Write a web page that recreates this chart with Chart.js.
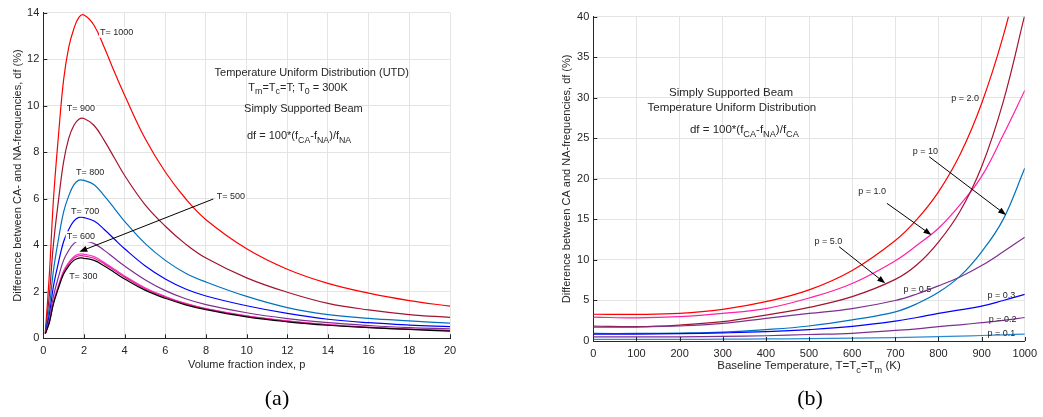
<!DOCTYPE html>
<html><head><meta charset="utf-8">
<script src="https://cdn.jsdelivr.net/npm/chart.js@4.4.0/dist/chart.umd.min.js"></script>
<style>
html,body{margin:0;padding:0;background:#fff;}
#wrap{position:relative;width:1043px;height:417px;overflow:hidden;background:#fff;}
#c1{position:absolute;left:0;top:0;}
#c2{position:absolute;left:520px;top:0;}
</style></head><body>
<div id="wrap"><canvas id="c1" width="520" height="417"></canvas><canvas id="c2" width="523" height="417"></canvas></div>
<script>
// ---------- Chart (a): df vs volume fraction index p ----------
const pIndex = [0.1,0.3,0.5,0.75,1,1.25,1.5,1.75,2,2.5,3,3.5,4,5,6,7,8,10,12,14,16,18,20];
const dfT1000 = [0.25,2.78,5.98,8.76,11.12,12.51,13.3,13.8,13.9,13.45,12.5,11.45,10.45,8.6,7.15,6.0,5.1,3.85,2.97,2.36,1.94,1.62,1.38];
const dfT900  = [0.22,1.89,4.06,5.95,7.6,8.6,9.15,9.42,9.45,9.15,8.5,7.75,7.0,5.75,4.82,4.05,3.45,2.6,1.98,1.5,1.22,1.02,0.9];
const dfT800  = [0.2,1.36,2.92,4.28,5.44,6.12,6.6,6.8,6.79,6.6,6.12,5.58,5.03,4.08,3.35,2.8,2.42,1.8,1.32,1.02,0.86,0.75,0.65];
const dfT700  = [0.2,1.04,2.24,3.28,4.16,4.68,5.04,5.2,5.19,5.04,4.68,4.26,3.85,3.12,2.55,2.12,1.82,1.4,1.07,0.82,0.67,0.57,0.5];
const dfT600  = [0.2,0.84,1.81,2.65,3.36,3.78,4.07,4.2,4.19,4.07,3.78,3.44,3.11,2.52,2.05,1.7,1.45,1.1,0.85,0.67,0.55,0.46,0.41];
const dfT500  = [0.2,0.72,1.56,2.28,2.9,3.26,3.51,3.62,3.61,3.51,3.26,2.97,2.68,2.17,1.8,1.5,1.28,0.97,0.75,0.59,0.48,0.4,0.35];
const dfT400  = [0.2,0.71,1.53,2.24,2.84,3.2,3.44,3.55,3.54,3.44,3.2,2.91,2.63,2.13,1.77,1.48,1.27,0.95,0.74,0.58,0.47,0.39,0.33];
const dfT300  = [0.2,0.69,1.48,2.17,2.76,3.11,3.35,3.45,3.44,3.35,3.11,2.83,2.55,2.07,1.72,1.44,1.23,0.92,0.71,0.56,0.46,0.38,0.31];
const xTicksA = [0,2,4,6,8,10,12,14,16,18,20];
const yTicksA = [0,2,4,6,8,10,12,14];

// ---------- Chart (b): df vs baseline temperature ----------
const tempK = [0,100,200,300,400,500,600,700,750,800,850,900,950,1000];
const dfP2_0 = [3.3,3.28,3.4,3.9,4.85,6.3,8.7,12.4,15.0,18.4,23.0,29.3,37.6,48];
const dfP1_0 = [2.95,2.85,3.0,3.4,4.0,5.3,7.1,9.9,11.8,13.9,16.8,20.3,25.4,30.9];
const dfP5_0 = [1.85,1.77,1.97,2.38,3.2,4.15,5.47,7.6,9.4,12.2,16.0,21.5,29.5,40.2];
const dfP0_5 = [1.7,1.72,1.85,2.18,2.8,3.4,4.0,5.0,5.8,6.8,7.9,9.3,11.0,12.8];
const dfP10  = [0.93,0.93,0.98,1.1,1.4,1.85,2.6,3.6,4.6,6.0,8.0,11.0,15.0,21.3];
const dfP0_3 = [0.86,0.86,0.9,1.0,1.15,1.4,1.8,2.45,2.9,3.4,3.85,4.3,5.0,5.75];
const dfP0_2 = [0.5,0.5,0.52,0.58,0.65,0.8,0.95,1.3,1.5,1.77,2.0,2.26,2.55,2.9];
const dfP0_1 = [0.2,0.2,0.2,0.22,0.25,0.3,0.35,0.42,0.48,0.55,0.6,0.68,0.76,0.86];
const xTicksB = [0,100,200,300,400,500,600,700,800,900,1000];
const yTicksB = [0,5,10,15,20,25,30,35,40];

const FAM = '"Liberation Sans", Arial, Helvetica, sans-serif';
const INK = '#262626';
Chart.defaults.font.family = FAM;
Chart.defaults.color = INK;

function pts(xs, ys){ return xs.map((x,i)=>({x, y: ys[i]})); }
function ds(label, xs, ys, color){
  return {label, data: pts(xs, ys), borderColor: color, backgroundColor: color,
    borderWidth: 1.2, pointRadius: 0, fill: false, tension: 0.4, cubicInterpolationMode: 'default'};
}

// rich text with _{sub}
function parseRich(s){
  const out=[]; const re=/_\{([^}]*)\}/g; let last=0, m;
  while((m=re.exec(s))){ if(m.index>last) out.push([s.slice(last,m.index),0]); out.push([m[1],1]); last=re.lastIndex; }
  if(last<s.length) out.push([s.slice(last),0]);
  return out;
}
function richText(ctx, s, x, y, size, align, bg){
  const segs = parseRich(s).map(([t,sub])=>{ const fs = sub? size*0.8 : size; ctx.font = fs+'px '+FAM; return {t,sub,fs,w:ctx.measureText(t).width}; });
  const w = segs.reduce((a,b)=>a+b.w,0);
  let cx = align==='left' ? x : x - w/2;
  if(bg){ ctx.fillStyle='#fff'; ctx.fillRect(cx-1, y-size*0.6, w+2, size*1.2); }
  ctx.fillStyle = INK; ctx.textBaseline='middle'; ctx.textAlign='left';
  segs.forEach(sg=>{ ctx.font = sg.fs+'px '+FAM; ctx.fillText(sg.t, cx, y + (sg.sub? size*0.4 : 0)); cx += sg.w; });
}
function arrow(ctx, x1,y1,x2,y2){
  const ang = Math.atan2(y2-y1, x2-x1), L=8, W=3;
  ctx.save(); ctx.strokeStyle='#000'; ctx.fillStyle='#000'; ctx.lineWidth=1;
  ctx.beginPath(); ctx.moveTo(x1,y1); ctx.lineTo(x2-L*0.8*Math.cos(ang), y2-L*0.8*Math.sin(ang)); ctx.stroke();
  ctx.beginPath(); ctx.moveTo(x2,y2);
  ctx.lineTo(x2-L*Math.cos(ang)+W*Math.sin(ang), y2-L*Math.sin(ang)-W*Math.cos(ang));
  ctx.lineTo(x2-L*Math.cos(ang)-W*Math.sin(ang), y2-L*Math.sin(ang)+W*Math.cos(ang));
  ctx.closePath(); ctx.fill(); ctx.restore();
}

const innerTicks = { id:'innerTicks', afterDraw(chart){
  const {ctx, chartArea:a, scales:{x,y}} = chart;
  ctx.save(); ctx.strokeStyle=INK; ctx.lineWidth=1; ctx.beginPath();
  x.ticks.forEach(t=>{ const px=Math.round(x.getPixelForValue(t.value))+0.5; ctx.moveTo(px,a.bottom); ctx.lineTo(px,a.bottom-4); });
  y.ticks.forEach(t=>{ const py=Math.round(y.getPixelForValue(t.value))+0.5; ctx.moveTo(a.left,py); ctx.lineTo(a.left+4,py); });
  ctx.stroke(); ctx.restore();
}};

function baseOptions(xMin,xMax,yMin,yMax,xTicks,yTicks,yw,xh,pad,yTitle,yTitlePad,xTitle,xTitlePad,tickSize){
  return {
    responsive:false, animation:false, devicePixelRatio:1,
    layout:{padding:pad},
    plugins:{legend:{display:false}, tooltip:{enabled:false}},
    scales:{
      x:{type:'linear', min:xMin, max:xMax,
        afterBuildTicks(s){ s.ticks = xTicks.map(v=>({value:v})); },
        afterFit(s){ s.height = xh; },
        ticks:{font:{size:tickSize}, padding:6, maxRotation:0, color:INK, callback:v=>String(v)},
        grid:{color:'#e4e4e4', lineWidth:1, drawTicks:false},
        border:{display:true, color:INK, width:1},
        title:{display: !!xTitle, text:xTitle||'', font:{size:11}, color:INK, padding:xTitlePad}
      },
      y:{type:'linear', min:yMin, max:yMax,
        afterBuildTicks(s){ s.ticks = yTicks.map(v=>({value:v})); },
        afterFit(s){ s.width = yw; },
        ticks:{font:{size:tickSize}, padding:4, color:INK, callback:v=>String(v)},
        grid:{color:'#e4e4e4', lineWidth:1, drawTicks:false},
        border:{display:true, color:INK, width:1},
        title:{display:true, text:yTitle, font:{size:11}, color:INK, padding:yTitlePad}
      }
    }
  };
}

// ---- Chart (a)
const annoA = { id:'annoA', afterDraw(chart){
  const {ctx, scales:{x,y}} = chart;
  const X=v=>x.getPixelForValue(v), Y=v=>y.getPixelForValue(v);
  ctx.save();
  const labs = [['T= 1000',2.79,13.16],['T= 900',1.15,9.86],['T= 800',1.61,7.14],['T= 700',1.36,5.47],['T= 600',1.15,4.37],['T= 300',1.27,2.65],['T= 500',8.53,6.09]];
  labs.forEach(l=>richText(ctx,l[0],X(l[1]),Y(l[2]),9,'left',true));
  arrow(ctx, X(8.36), Y(5.99), X(1.77), Y(3.72));
  richText(ctx,'Temperature Uniform Distribution (UTD)', X(13.2), Y(11.42), 11,'center');
  richText(ctx,'T_{m}=T_{c}=T; T_{0} = 300K', X(12.53), Y(10.78), 11,'center');
  richText(ctx,'Simply Supported Beam', X(12.79), Y(9.85), 11,'center');
  richText(ctx,'df = 100*(f_{CA}-f_{NA})/f_{NA}', X(12.58), Y(8.68), 11,'center');
  ctx.font = '22px "Liberation Serif", "Times New Roman", serif'; ctx.fillStyle='#000'; ctx.textAlign='center'; ctx.textBaseline='middle';
  ctx.fillText('(a)', 277, 399);
  ctx.restore();
}};
new Chart(document.getElementById('c1'), {
  type:'line',
  data:{datasets:[
    ds('T=300', pIndex, dfT300, '#000000'),
    ds('T=400', pIndex, dfT400, '#E0218A'),
    ds('T=500', pIndex, dfT500, '#FF33CC'),
    ds('T=600', pIndex, dfT600, '#7E2F8E'),
    ds('T=700', pIndex, dfT700, '#0000FF'),
    ds('T=800', pIndex, dfT800, '#0072BD'),
    ds('T=900', pIndex, dfT900, '#A2142F'),
    ds('T=1000', pIndex, dfT1000, '#FF0000')
  ]},
  options: baseOptions(0,20,0,14,xTicksA,yTicksA,43.3,78.7,{left:0,top:12.7,right:70,bottom:0},
    'Difference between CA- and NA-frequencies, df (%)',{top:11.4,bottom:0},'Volume fraction index, p',{top:0,bottom:45.4},11),
  plugins:[innerTicks, annoA]
});

// ---- Chart (b)
const annoB = { id:'annoB', afterDraw(chart){
  const {ctx, chartArea:a, scales:{x,y}} = chart;
  const X=v=>x.getPixelForValue(v), Y=v=>y.getPixelForValue(v);
  ctx.save();
  const labs = [['p = 2.0',829.6,29.85],['p = 10',740.1,23.43],['p = 1.0',614,18.41],['p = 5.0',512.4,12.25],['p = 0.5',718.8,6.38],['p = 0.3',913.8,5.55],['p = 0.2',916.7,2.68],['p = 0.1',913.8,0.95]];
  labs.forEach(l=>richText(ctx,l[0],X(l[1]),Y(l[2]),9,'left'));
  arrow(ctx, X(778.4), Y(22.73), X(956.7), Y(15.54));
  arrow(ctx, X(680.5), Y(16.98), X(783.7), Y(13.07));
  arrow(ctx, X(569.7), Y(11.63), X(676.6), Y(7.12));
  richText(ctx,'Simply Supported Beam', X(319.3), Y(30.55), 11.5,'center');
  richText(ctx,'Temperature Uniform Distribution', X(321.1), Y(28.7), 11.5,'center');
  richText(ctx,'df = 100*(f_{CA}-f_{NA})/f_{CA}', X(350.2), Y(26.1), 11.5,'center');
  richText(ctx,'Baseline Temperature, T=T_{c}=T_{m} (K)', (a.left+a.right)/2, 366, 11.5,'center');
  ctx.font = '22px "Liberation Serif", "Times New Roman", serif'; ctx.fillStyle='#000'; ctx.textAlign='center'; ctx.textBaseline='middle';
  ctx.fillText('(b)', 290, 399);
  ctx.restore();
}};
new Chart(document.getElementById('c2'), {
  type:'line',
  data:{datasets:[
    ds('p = 0.1', tempK, dfP0_1, '#2A8CD0'),
    ds('p = 0.2', tempK, dfP0_2, '#7E2F8E'),
    ds('p = 0.3', tempK, dfP0_3, '#0000FF'),
    ds('p = 10', tempK, dfP10, '#0072BD'),
    ds('p = 0.5', tempK, dfP0_5, '#7E2F8E'),
    ds('p = 5.0', tempK, dfP5_0, '#A2142F'),
    ds('p = 1.0', tempK, dfP1_0, '#FF1FA8'),
    ds('p = 2.0', tempK, dfP2_0, '#FF0000')
  ]},
  options: baseOptions(0,1000,0,40,xTicksB,yTicksB,73.3,76,{left:0,top:16.7,right:13.7,bottom:0},
    'Difference between CA and NA-frequencies, df (%)',{top:40.4,bottom:0},'',{top:0,bottom:0},11),
  plugins:[innerTicks, annoB]
});
</script>
</body></html>
